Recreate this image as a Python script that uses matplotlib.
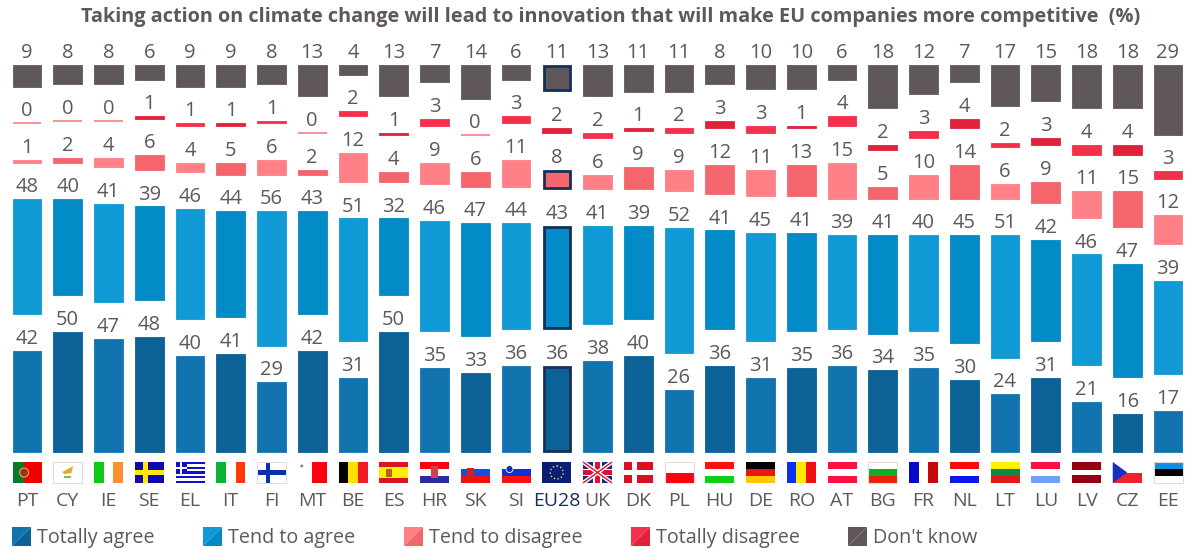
import matplotlib
matplotlib.use("Agg")
import matplotlib.pyplot as plt
from matplotlib.patches import Polygon, Rectangle, Circle

plt.rcParams["font.family"] = ["Open Sans", "DejaVu Sans"]

# --- Dados ---
countries = ["PT", "CY", "IE", "SE", "EL", "IT", "FI", "MT", "BE", "ES", "HR", "SK", "SI", "EU28", "UK",
             "DK", "PL", "HU", "DE", "RO", "AT", "BG", "FR", "NL", "LT", "LU", "LV", "CZ", "EE"]
totally_agree = [42, 50, 47, 48, 40, 41, 29, 42, 31, 50, 35, 33, 36, 36, 38,
                 40, 26, 36, 31, 35, 36, 34, 35, 30, 24, 31, 21, 16, 17]
tend_agree = [48, 40, 41, 39, 46, 44, 56, 43, 51, 32, 46, 47, 44, 43, 41,
              39, 52, 41, 45, 41, 39, 41, 40, 45, 51, 42, 46, 47, 39]
tend_disagree = [1, 2, 4, 6, 4, 5, 6, 2, 12, 4, 9, 6, 11, 8, 6,
                 9, 9, 12, 11, 13, 15, 5, 10, 14, 6, 9, 11, 15, 12]
totally_disagree = [0, 0, 0, 1, 1, 1, 1, 0, 2, 1, 3, 0, 3, 2, 2,
                    1, 2, 3, 3, 1, 4, 2, 3, 4, 2, 3, 4, 4, 3]
dont_know = [9, 8, 8, 6, 9, 9, 8, 13, 4, 13, 7, 14, 6, 11, 13,
             11, 11, 8, 10, 10, 6, 18, 12, 7, 17, 15, 18, 18, 29]

series = [totally_agree, tend_agree, tend_disagree, totally_disagree, dont_know]
series_names = ["Totally agree", "Tend to agree", "Tend to disagree", "Totally disagree", "Don't know"]
colors_light = ["#1274AE", "#0F9AD6", "#FF8087", "#F5304A", "#5F575C"]
colors_dark = ["#0C6196", "#038BC8", "#F4656C", "#E2213A", "#5F575C"]

TEXT = "#5F575C"
NAVY = "#14305A"
W, H = 1189, 549
STEP = 40.75      # px entre colunas
X0 = 27           # centro da primeira coluna
BASE = 452        # linha de base, px
SCALE = 2.4       # px por ponto percentual
GAP = 15.3        # espaco entre os blocos, em pontos

fig = plt.figure(figsize=(W / 100, H / 100), dpi=100)

# eixo dos dados: ocupa a figura toda
ax = fig.add_axes([0, 0, 1, 1])
ax.set_xlim(-X0 / STEP, (W - X0) / STEP)
ax.set_ylim(-(H - BASE) / SCALE, BASE / SCALE)
ax.axis("off")

for i, c in enumerate(countries):
    bottom = 0
    for s, vals in enumerate(series):
        v = vals[i]
        col = colors_light[s] if i % 2 == 0 else colors_dark[s]
        if v == 0:
            # barra zero aparece como um fio claro
            ax.plot([i - 0.35, i + 0.35], [bottom, bottom], color="#F8737E", lw=1.1, solid_capstyle="butt")
        elif c == "EU28" and s in (0, 1, 2, 4):
            ax.bar(i, v - 1, 0.65, bottom=bottom + 0.5, color=col, edgecolor=NAVY, linewidth=2.0)
        else:
            ax.bar(i, v, 0.70, bottom=bottom, color=col, edgecolor=col, linewidth=0.6)
        ax.text(i, bottom + v + 2.9, str(v), ha="center", va="baseline", fontsize=14.5, color=TEXT)
        bottom += v + GAP

# eixo em pixels: titulo, bandeiras, legenda
px = fig.add_axes([0, 0, 1, 1])
px.set_xlim(0, W)
px.set_ylim(H, 0)
px.axis("off")
px.patch.set_alpha(0)

px.text(611, 17, "Taking action on climate change will lead to innovation that will make EU companies more competitive  (%)",
        ha="center", va="center", fontsize=14.3, fontweight="bold", color=TEXT)


def rect(x, y, w, h, col):
    px.add_patch(Rectangle((x, y), w, h, facecolor=col, edgecolor="none"))


def hbands(x, y, w, h, cols):
    for k, col in enumerate(cols):
        rect(x, y + k * h / len(cols), w, h / len(cols), col)


def vbands(x, y, w, h, cols):
    for k, col in enumerate(cols):
        rect(x + k * w / len(cols), y, w / len(cols), h, col)


def cross(x, y, w, h, bg, fg):
    rect(x, y, w, h, bg)
    rect(x + w * 0.3, y, w * 0.16, h, fg)
    rect(x, y + h * 0.4, w, h * 0.2, fg)


def outline(x, y, w, h):
    px.add_patch(Rectangle((x, y), w, h, fill=False, edgecolor="#DDDDDD", linewidth=0.8))


def flag(code, x, y, w, h):
    if code == "PT":
        rect(x, y, w, h, "#F00000")
        rect(x, y, w * 0.4, h, "#0A7A2A")
        px.add_patch(Circle((x + w * 0.4, y + h / 2), 4.5, facecolor="#A03020", edgecolor="#D8B040", linewidth=0.8))
    elif code == "CY":
        rect(x, y, w, h, "#FFFFFF")
        outline(x, y, w, h)
        px.add_patch(Polygon([(x + 9, y + 10), (x + 20, y + 4), (x + 18, y + 11), (x + 11, y + 12)], facecolor="#E8A820"))
        px.add_patch(Rectangle((x + 11, y + 14), 7, 2, facecolor="#8DB060"))
    elif code == "IE":
        vbands(x, y, w, h, ["#10C818", "#FFFFFF", "#FF9030"])
    elif code == "SE":
        cross(x, y, w, h, "#0A0AB0", "#FFE800")
    elif code == "EL":
        hbands(x, y, w, h, ["#1010D0", "#FFFFFF"] * 4 + ["#1010D0"])
        rect(x, y, w * 0.4, h * 5 / 9, "#1010D0")
        rect(x + w * 0.16, y, w * 0.08, h * 5 / 9, "#FFFFFF")
        rect(x, y + h * 2 / 9, w * 0.4, h / 9, "#FFFFFF")
    elif code == "IT":
        vbands(x, y, w, h, ["#10B030", "#FFFFFF", "#FF3808"])
    elif code == "FI":
        cross(x, y, w, h, "#FFFFFF", "#0A30B0")
        outline(x, y, w, h)
    elif code == "MT":
        vbands(x, y, w, h, ["#FFFFFF", "#FF0010"])
        px.add_patch(Circle((x + 4, y + 4), 1.5, facecolor="#888888"))
    elif code == "BE":
        vbands(x, y, w, h, ["#000000", "#FFE000", "#EE1C25"])
    elif code == "ES":
        hbands(x, y, w, h, ["#D81820", "#FFF000", "#FFF000", "#D81820"])
        rect(x + 7, y + 7, 6, 8, "#C06020")
    elif code == "HR":
        hbands(x, y, w, h, ["#FF0010", "#FFFFFF", "#2A2AA8"])
        rect(x + w / 2 - 3.5, y + 4, 7, 12, "#D04050")
    elif code == "SK":
        hbands(x, y, w, h, ["#FFFFFF", "#1050E0", "#F01010"])
        rect(x + 6, y + 6, 7, 10, "#D02020")
    elif code == "SI":
        hbands(x, y, w, h, ["#FFFFFF", "#1030D0", "#FF1010"])
        px.add_patch(Circle((x + 8, y + 7), 3.5, facecolor="#1030B0", edgecolor="#FFFFFF", linewidth=0.6))
    elif code == "EU28":
        rect(x, y, w, h, "#0A1E78")
        px.add_patch(Circle((x + w / 2, y + h / 2), 6.5, fill=False, edgecolor="#E8D860", linewidth=1, linestyle=":"))
    elif code == "UK":
        rect(x, y, w, h, "#1A2A80")
        px.plot([x, x + w], [y, y + h], color="#FFFFFF", lw=3, solid_capstyle="butt")
        px.plot([x, x + w], [y + h, y], color="#FFFFFF", lw=3, solid_capstyle="butt")
        px.plot([x, x + w], [y, y + h], color="#E01030", lw=1, solid_capstyle="butt")
        px.plot([x, x + w], [y + h, y], color="#E01030", lw=1, solid_capstyle="butt")
        rect(x + w * 0.36, y, w * 0.28, h, "#FFFFFF")
        rect(x, y + h * 0.33, w, h * 0.34, "#FFFFFF")
        rect(x + w * 0.43, y, w * 0.14, h, "#E01030")
        rect(x, y + h * 0.4, w, h * 0.2, "#E01030")
    elif code == "DK":
        cross(x, y, w, h, "#D81020", "#FFFFFF")
    elif code == "PL":
        hbands(x, y, w, h, ["#FFFFFF", "#FF0010"])
        outline(x, y, w, h)
    elif code == "HU":
        hbands(x, y, w, h, ["#FF1010", "#FFFFFF", "#10D010"])
    elif code == "DE":
        hbands(x, y, w, h, ["#000000", "#E81810", "#FFC800"])
    elif code == "RO":
        vbands(x, y, w, h, ["#0A30F0", "#FFE800", "#F01010"])
    elif code == "AT":
        hbands(x, y, w, h, ["#FF1040", "#FFFFFF", "#FF1040"])
    elif code == "BG":
        hbands(x, y, w, h, ["#FFFFFF", "#10B020", "#E82010"])
        outline(x, y, w, h)
    elif code == "FR":
        vbands(x, y, w, h, ["#0808C8", "#FFFFFF", "#C80808"])
    elif code == "NL":
        hbands(x, y, w, h, ["#FF0808", "#FFFFFF", "#0A18F0"])
    elif code == "LT":
        hbands(x, y, w, h, ["#FFF000", "#108840", "#E01818"])
    elif code == "LU":
        hbands(x, y, w, h, ["#FF1040", "#FFFFFF", "#70A0FF"])
    elif code == "LV":
        hbands(x, y, w, h, ["#960010", "#960010", "#FFFFFF", "#960010", "#960010"])
    elif code == "CZ":
        hbands(x, y, w, h, ["#FFFFFF", "#F02030"])
        px.add_patch(Polygon([(x, y), (x + w * 0.5, y + h / 2), (x, y + h)], facecolor="#1830C0"))
    elif code == "EE":
        hbands(x, y, w, h, ["#1090E0", "#000000", "#FFFFFF"])
        outline(x, y, w, h)


for i, c in enumerate(countries):
    cx = X0 + i * STEP
    flag(c, cx - 14.5, 462, 29, 21)
    px.text(cx, 506, c, ha="center", va="baseline", fontsize=14,
            color=NAVY if c == "EU28" else TEXT)

# --- Legenda ---
leg_x = [12, 203, 404, 631, 848]
for x, name, cl, cd in zip(leg_x, series_names, colors_light, colors_dark):
    s = 19
    px.add_patch(Polygon([(x, 527), (x + s, 527), (x, 527 + s)], facecolor=cl, edgecolor="none"))
    px.add_patch(Polygon([(x + s, 527), (x + s, 527 + s), (x, 527 + s)], facecolor=cd, edgecolor="none"))
    px.text(x + 25, 543, name, ha="left", va="baseline", fontsize=14.2, color=TEXT)

fig.savefig("out.png", dpi=100)
